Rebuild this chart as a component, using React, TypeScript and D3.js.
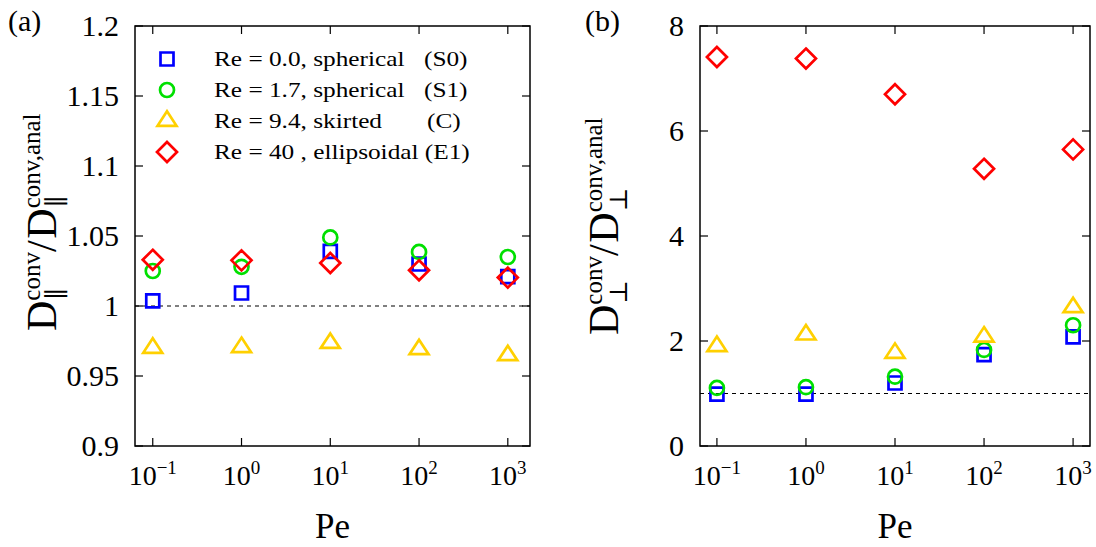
import React from 'react';
import * as d3 from 'd3';

// ---------- data ----------
const peValues = [0.1, 1, 10, 100, 1000];
const xTickExponents = [-1, 0, 1, 2, 3];

const parallelS0 = [1.0036, 1.0093, 1.039, 1.030, 1.021];
const parallelS1 = [1.025, 1.028, 1.049, 1.0386, 1.035];
const parallelC = [0.970, 0.9705, 0.9735, 0.969, 0.9647];
const parallelE1 = [1.033, 1.0326, 1.0307, 1.0255, 1.0203];

const perpS0 = [0.99, 0.99, 1.20, 1.74, 2.08];
const perpS1 = [1.107, 1.12, 1.32, 1.83, 2.30];
const perpC = [1.90, 2.12, 1.77, 2.08, 2.64];
const perpE1 = [7.41, 7.38, 6.70, 5.28, 5.65];

const leftYTicks = [0.9, 0.95, 1, 1.05, 1.1, 1.15, 1.2];
const leftYTickLabels = ['0.9', '0.95', '1', '1.05', '1.1', '1.15', '1.2'];
const rightYTicks = [0, 2, 4, 6, 8];
const rightYTickLabels = ['0', '2', '4', '6', '8'];

const seriesNames = ['S0', 'S1', 'C', 'E1'];
const legendLabels = ['Re = 0.0, spherical', 'Re = 1.7, spherical', 'Re = 9.4, skirted', 'Re = 40 , ellipsoidal (E1)'];
const legendTags = ['(S0)', '(S1)', '(C)', ''];

// ---------- styles ----------
const COLORS: Record<string, string> = { S0: '#0000ff', S1: '#00e000', C: '#ffd000', E1: '#ff0000' };
const SHAPES: Record<string, string> = { S0: 'square', S1: 'circle', C: 'triangle', E1: 'diamond' };
const FONT = 'Liberation Serif, Tinos, Times New Roman, Times, serif';
const MSW = 2.7;

function markerPath(shape: string, cx: number, cy: number): string {
  const p = d3.path();
  if (shape === 'square') {
    const h = 6.5;
    p.rect(cx - h, cy - h, 2 * h, 2 * h);
  } else if (shape === 'circle') {
    p.moveTo(cx + 7, cy);
    p.arc(cx, cy, 7, 0, Math.PI * 2);
    p.closePath();
  } else if (shape === 'diamond') {
    const h = 10;
    p.moveTo(cx, cy - h);
    p.lineTo(cx + h, cy);
    p.lineTo(cx, cy + h);
    p.lineTo(cx - h, cy);
    p.closePath();
  } else {
    p.moveTo(cx, cy - 9.7);
    p.lineTo(cx + 9.5, cy + 4.8);
    p.lineTo(cx - 9.5, cy + 4.8);
    p.closePath();
  }
  return p.toString();
}

function Marker({ name, x, y }: { name: string; x: number; y: number }) {
  return (
    <path d={markerPath(SHAPES[name], x, y)} fill="none" stroke={COLORS[name]} strokeWidth={MSW} strokeLinejoin="miter" />
  );
}

type PanelProps = {
  left: number; right: number; top: number; bottom: number;
  xDomain: [number, number];
  yDomain: [number, number];
  yTicks: number[]; yTickLabels: string[];
  series: Record<string, number[]>;
};

function Panel(props: PanelProps) {
  const { left, right, top, bottom, xDomain, yDomain, yTicks, yTickLabels, series } = props;
  const x = d3.scaleLog().domain(xDomain).range([left, right]);
  const y = d3.scaleLinear().domain(yDomain).range([bottom, top]);
  const tl = 8;
  return (
    <g>
      <line x1={left} x2={right} y1={y(1)} y2={y(1)} stroke="#000" strokeWidth={1.2} strokeDasharray="4,4" />
      {xTickExponents.map((e) => {
        const xv = x(Math.pow(10, e));
        return (
          <g key={'xt' + e}>
            <line x1={xv} x2={xv} y1={bottom} y2={bottom - tl} stroke="#000" strokeWidth={1.2} />
            <line x1={xv} x2={xv} y1={top} y2={top + tl} stroke="#000" strokeWidth={1.2} />
            <text x={xv} y={485} textAnchor="middle" style={{ fontFamily: FONT, fontSize: 28 }} fill="#000">
              10<tspan dy={-11} style={{ fontSize: 19 }}>{e < 0 ? '\u2212' + Math.abs(e) : String(e)}</tspan>
            </text>
          </g>
        );
      })}
      {yTicks.map((t, i) => {
        const yv = y(t);
        return (
          <g key={'yt' + i}>
            <line x1={left} x2={left + tl} y1={yv} y2={yv} stroke="#000" strokeWidth={1.2} />
            <line x1={right} x2={right - tl} y1={yv} y2={yv} stroke="#000" strokeWidth={1.2} />
            <text x={left - 16} y={yv + 10} textAnchor="end" style={{ fontFamily: FONT, fontSize: 30 }} fill="#000">
              {yTickLabels[i]}
            </text>
          </g>
        );
      })}
      <rect x={left} y={top} width={right - left} height={bottom - top} fill="none" stroke="#000" strokeWidth={1.5} />
      {seriesNames.map((name) => (
        <g key={name}>
          {series[name].map((v, i) => (
            <Marker key={i} name={name} x={x(peValues[i])} y={y(v)} />
          ))}
        </g>
      ))}
      <text x={(left + right) / 2} y={538} textAnchor="middle" style={{ fontFamily: FONT, fontSize: 35 }} fill="#000">Pe</text>
    </g>
  );
}

function YLabel({ x, y, sub }: { x: number; y: number; sub: string }) {
  const big = 42;
  const small = 25;
  const dW = 0.722 * big;
  const convW = 1.944 * small;
  const slashW = 0.32 * big;
  const f = { fontFamily: FONT };
  const fs = { fontFamily: 'DejaVu Serif, serif' };
  return (
    <g transform={`translate(${x},${y}) rotate(-90)`} fill="#000">
      <text x={0} y={0} style={{ ...f, fontSize: big }}>D</text>
      <text x={dW} y={-16} style={{ ...f, fontSize: small }}>conv</text>
      <text x={dW + 1} y={9} style={{ ...fs, fontSize: small }}>{sub}</text>
      <text x={dW + convW} y={0} style={{ ...f, fontSize: big }}>/</text>
      <text x={dW + convW + slashW} y={0} style={{ ...f, fontSize: big }}>D</text>
      <text x={2 * dW + convW + slashW} y={-16} style={{ ...f, fontSize: small }}>conv,anal</text>
      <text x={2 * dW + convW + slashW + 1} y={9} style={{ ...fs, fontSize: small }}>{sub}</text>
    </g>
  );
}

export default function App() {
  const leftSeries = { S0: parallelS0, S1: parallelS1, C: parallelC, E1: parallelE1 };
  const rightSeries = { S0: perpS0, S1: perpS1, C: perpC, E1: perpE1 };
  const legendX = 167;
  const legendY0 = 59;
  const legendDy = 31;
  return (
    <svg width={1096} height={547} style={{ position: 'absolute', left: 0, top: 0, background: '#fff' }}>
      <rect x={0} y={0} width={1096} height={547} fill="#fff" />
      <Panel
        left={135} right={530} top={26} bottom={446}
        xDomain={[Math.pow(10, -1.2), Math.pow(10, 3.25)]}
        yDomain={[0.9, 1.2]}
        yTicks={leftYTicks} yTickLabels={leftYTickLabels}
        series={leftSeries}
      />
      <Panel
        left={700} right={1090} top={26} bottom={446}
        xDomain={[Math.pow(10, -1.19), Math.pow(10, 3.19)]}
        yDomain={[0, 8]}
        yTicks={rightYTicks} yTickLabels={rightYTickLabels}
        series={rightSeries}
      />
      {seriesNames.map((name, i) => {
        const ly = legendY0 + i * legendDy;
        return (
          <g key={'lg' + name}>
            <Marker name={name} x={legendX} y={ly} />
            <g transform={`translate(214,${ly + 7}) scale(1.15,1)`}>
              <text x={0} y={0} style={{ fontFamily: FONT, fontSize: 22 }} fill="#000">{legendLabels[i]}</text>
            </g>
            {legendTags[i] && (
              <g transform={`translate(${i === 2 ? 427 : 424},${ly + 7}) scale(1.15,1)`}>
                <text x={0} y={0} style={{ fontFamily: FONT, fontSize: 22 }} fill="#000">{legendTags[i]}</text>
              </g>
            )}
          </g>
        );
      })}
      <YLabel x={56} y={331} sub={'\u2225'} />
      <YLabel x={618} y={335} sub={'\u22A5'} />
      <text x={8} y={31} style={{ fontFamily: FONT, fontSize: 30 }} fill="#000">(a)</text>
      <text x={585} y={31} style={{ fontFamily: FONT, fontSize: 30 }} fill="#000">(b)</text>
    </svg>
  );
}
